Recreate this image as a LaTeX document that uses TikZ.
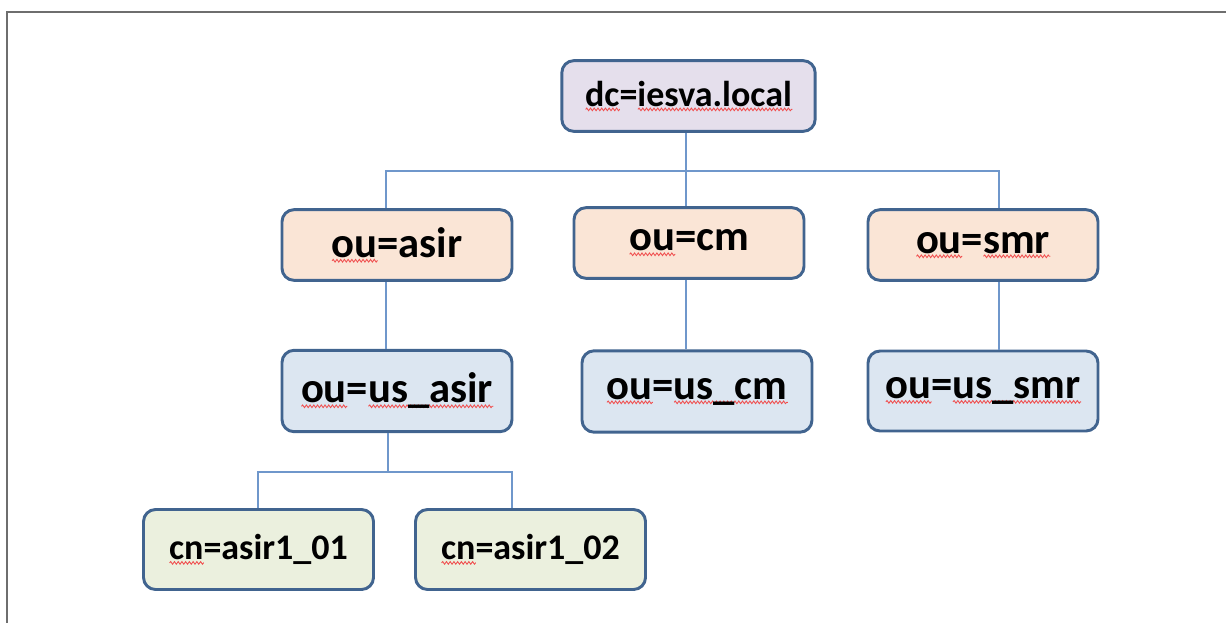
\documentclass[tikz,border=0pt]{standalone}
\usepackage{fontspec}
\setmainfont{Carlito}
\usetikzlibrary{decorations.pathmorphing,calc}
\definecolor{frame}{HTML}{6E6E6E}
\definecolor{bord}{HTML}{41648F}
\definecolor{conncol}{HTML}{6F97CB}
\definecolor{fdc}{HTML}{E5DFEC}
\definecolor{fou}{HTML}{FAE5D6}
\definecolor{fus}{HTML}{DCE6F1}
\definecolor{fcn}{HTML}{EBF0DE}
\definecolor{wave}{HTML}{F05050}
\newcommand\sqw[1]{\setbox0\hbox{#1}\rlap{\raisebox{-3.8pt}{\tikz[x=1pt,y=1pt,sharp corners]\draw[wave,sharp corners,line width=0.65pt,decorate,decoration={snake,amplitude=1pt,segment length=2.8pt}] (0,0) -- (\wd0,0pt);}}\box0}
\tikzset{
  box/.style={draw=bord,line width=2.2pt,rounded corners=9pt,inner sep=0pt,align=center,font=\bfseries},
  big/.style={box,minimum width=172.5pt,minimum height=53pt,font=\fontsize{32}{36}\selectfont\bfseries},
  small/.style={box,minimum width=172.5pt,minimum height=60pt,font=\fontsize{27}{30}\selectfont\bfseries},
  conn/.style={draw=conncol,line width=0.9pt}
}
\begin{document}
\begin{tikzpicture}[x=0.75pt,y=-0.75pt]
\useasboundingbox (0,0) rectangle (1226,623);
\draw[frame,line width=2pt] (7,623) -- (7,12) -- (1226,12);
% nodes
\node[small,fill=fdc,minimum width=190pt,minimum height=53pt] (dc) at (688.5,96) {\sqw{dc}=\sqw{iesva.local}};
\node[big,fill=fou] (asir) at (397,245) {\sqw{ou}=asir};
\node[big,fill=fou] (cm) at (689,243) {\sqw{ou}=cm};
\node[big,fill=fou] (smr) at (983,245) {\sqw{ou}=\sqw{smr}};
\node[big,fill=fus,minimum height=61pt] (usasir) at (397,391) {\sqw{ou}=\sqw{us\_asir}};
\node[big,fill=fus,minimum height=61pt] (uscm) at (697,391.5) {\sqw{ou}=\sqw{us\_cm}};
\node[big,fill=fus,minimum height=60pt] (ussmr) at (983,391) {\sqw{ou}=\sqw{us\_smr}};
\node[small,fill=fcn] (cnA) at (258.5,549.5) {\sqw{cn}=asir1\_01};
\node[small,fill=fcn] (cnB) at (530.5,549.5) {\sqw{cn}=asir1\_02};
% connector points
\coordinate (busA) at (686,171);
\coordinate (pA) at (386,0);
\coordinate (pS) at (999,0);
\coordinate (busB) at (388,472);
\coordinate (p1) at (258,0);
\coordinate (p2) at (512,0);
% connectors
\draw[conn] (dc.south -| busA) -- (busA);
\draw[conn] (asir.north -| pA) |- (busA) -| (smr.north -| pS);
\draw[conn] (busA) -- (cm.north -| busA);
\draw[conn] (asir.south -| pA) -- (usasir.north -| pA);
\draw[conn] (cm.south -| busA) -- (uscm.north -| busA);
\draw[conn] (smr.south -| pS) -- (ussmr.north -| pS);
\draw[conn] (usasir.south -| busB) -- (busB);
\draw[conn] (cnA.north -| p1) |- (busB) -| (cnB.north -| p2);
\end{tikzpicture}
\end{document}
